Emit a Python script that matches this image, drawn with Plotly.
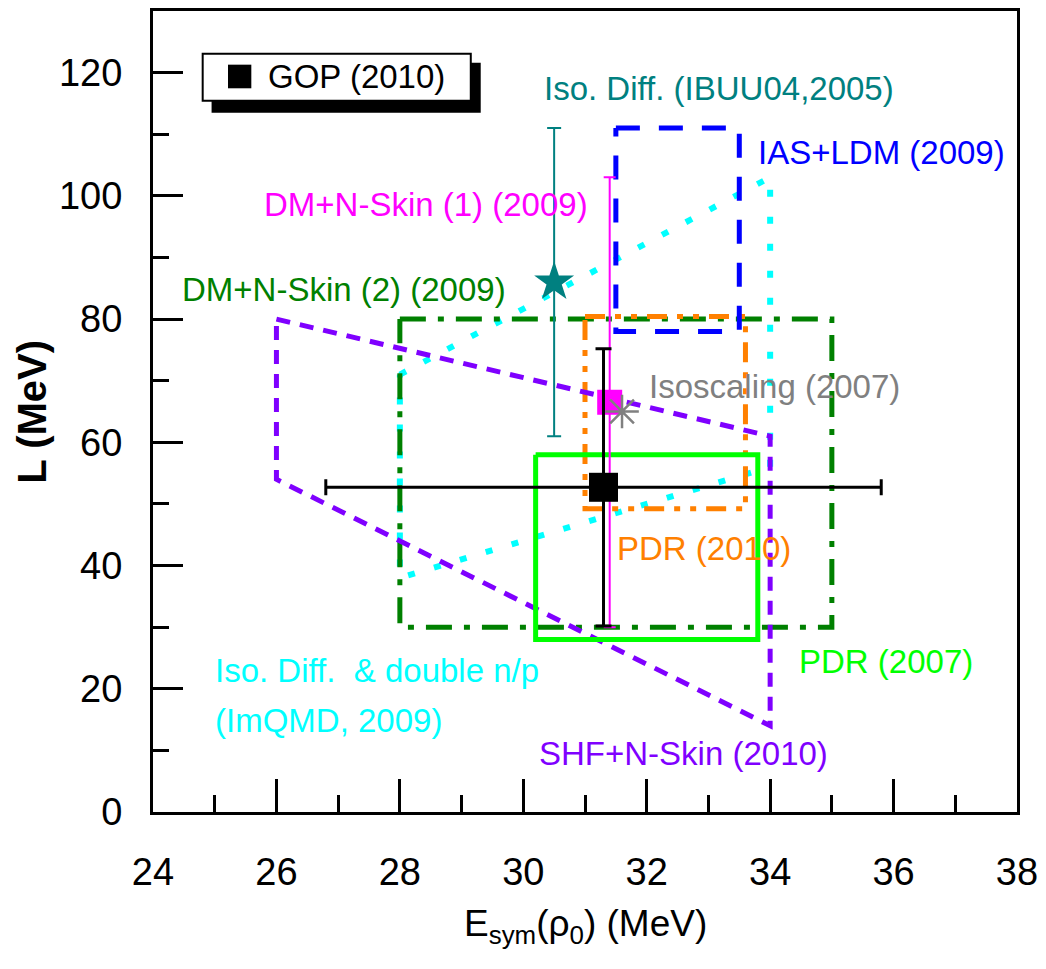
import plotly.graph_objects as go

# ---- constraints on the symmetry energy: Esym(rho0) [MeV] vs slope L [MeV] ----

# GOP (2010): point with error bars
gop_esym = [31.3]
gop_L = [52.7]
gop_esym_err = [4.5]
gop_L_err = [22.5]

# DM+N-Skin (1) (2009): point with vertical error bar
dm1_esym = [31.4]
dm1_L = [66.5]
dm1_L_err = [36.5]

# Iso. Diff. (IBUU04, 2005): point with vertical error bar
ibuu_esym = [30.5]
ibuu_L = [86.0]
ibuu_L_err = [25.0]

# Isoscaling (2007)
isoscal_esym = [31.6]
isoscal_L = [65.0]

# Rectangular regions: [min, max] in Esym and in L
ias_esym = [31.5, 33.5]      # IAS+LDM (2009)
ias_L = [78.0, 111.0]
pdr10_esym = [31.0, 33.6]    # PDR (2010)
pdr10_L = [49.2, 80.4]
pdr07_esym = [30.2, 33.8]    # PDR (2007)
pdr07_L = [28.0, 58.0]
dm2_esym = [28.0, 35.0]      # DM+N-Skin (2) (2009)
dm2_L = [30.0, 80.0]

# Polygonal regions (closed outlines)
shf_esym = [26.0, 34.0, 34.0, 26.0, 26.0]     # SHF+N-Skin (2010)
shf_L = [80.0, 61.0, 14.0, 54.0, 80.0]
imqmd_esym = [28.0, 34.0, 34.0, 28.0, 28.0]   # Iso. Diff. & double n/p (ImQMD, 2009)
imqmd_L = [71.0, 103.0, 56.0, 38.0, 71.0]

# Axis ticks
x_ticks = [24, 26, 28, 30, 32, 34, 36, 38]
y_ticks = [0, 20, 40, 60, 80, 100, 120]

FONT = "Liberation Sans, Arial, sans-serif"

TEAL = "#008080"
BLUE = "#0000FF"
MAGENTA = "#FF00FF"
GREEN = "#008000"
PURPLE = "#7F00FF"
GREY = "#808080"
ORANGE = "#FF8000"
LIME = "#00FF00"
CYAN = "#00FFFF"


def box_outline(xr, yr):
    """Closed outline of the rectangle spanned by two [min, max] ranges."""
    xs = [xr[0], xr[1], xr[1], xr[0], xr[0]]
    ys = [yr[1], yr[1], yr[0], yr[0], yr[1]]
    return xs, ys


fig = go.Figure()


def outline(xs, ys, color, width, dash):
    fig.add_trace(go.Scatter(
        x=xs, y=ys, mode="lines",
        line=dict(color=color, width=width, dash=dash),
        showlegend=False, hoverinfo="skip",
    ))


# regions
outline(imqmd_esym, imqmd_L, CYAN, 6, "7px,20px")
outline(*box_outline(dm2_esym, dm2_L), GREEN, 5, "26px,12px,6px,12px")
outline(*box_outline(pdr10_esym, pdr10_L), ORANGE, 5, "20px,10px,6px,10px,6px,10px")
outline(*box_outline(ias_esym, ias_L), BLUE, 5, "24px,19px")
outline(shf_esym, shf_L, PURPLE, 5, "14px,10px")
outline(*box_outline(pdr07_esym, pdr07_L), LIME, 5, "solid")

# DM+N-Skin (1)
fig.add_trace(go.Scatter(
    x=dm1_esym, y=dm1_L, mode="markers",
    marker=dict(symbol="square", size=25, color=MAGENTA),
    error_y=dict(type="data", array=dm1_L_err, color=MAGENTA, thickness=2, width=6),
    showlegend=False, hoverinfo="skip",
))

# Iso. Diff. (IBUU04)
fig.add_trace(go.Scatter(
    x=ibuu_esym, y=ibuu_L, mode="markers",
    marker=dict(symbol="star", size=30, color=TEAL),
    error_y=dict(type="data", array=ibuu_L_err, color=TEAL, thickness=2, width=7),
    showlegend=False, hoverinfo="skip",
))

# Isoscaling
fig.add_trace(go.Scatter(
    x=isoscal_esym, y=isoscal_L, mode="markers",
    marker=dict(symbol="asterisk-open", size=28, color=GREY,
                line=dict(color=GREY, width=2.5)),
    showlegend=False, hoverinfo="skip",
))

# GOP
fig.add_trace(go.Scatter(
    x=gop_esym, y=gop_L, mode="markers",
    marker=dict(symbol="square", size=29, color="black"),
    error_x=dict(type="data", array=gop_esym_err, color="black", thickness=3, width=8),
    error_y=dict(type="data", array=gop_L_err, color="black", thickness=3, width=8),
    showlegend=False, hoverinfo="skip",
))

# ---- labels ----
labels = [
    ("Iso. Diff. (IBUU04,2005)", 30.31, 117.5, TEAL),
    ("IAS+LDM (2009)", 33.77, 107.0, BLUE),
    ("DM+N-Skin (1) (2009)", 25.77, 98.6, MAGENTA),
    ("DM+N-Skin (2) (2009)", 24.43, 84.8, GREEN),
    ("Isoscaling (2007)", 32.0, 69.0, GREY),
    ("PDR (2010)", 31.48, 42.8, ORANGE),
    ("PDR (2007)", 34.44, 24.5, LIME),
    ("SHF+N-Skin (2010)", 30.23, 9.5, PURPLE),
    ("Iso. Diff.\u00a0 & double n/p", 24.97, 22.9, CYAN),
    ("(ImQMD, 2009)", 24.97, 14.8, CYAN),
]
annotations = []
for text, ax_, ay_, col in labels:
    annotations.append(dict(
        text=text, x=ax_, y=ay_, xref="x", yref="y",
        xanchor="left", yanchor="middle", showarrow=False,
        font=dict(family=FONT, size=33, color=col),
    ))

# legend-style key for GOP (2010)
annotations.append(dict(
    text="GOP (2010)", x=0.131, y=0.918, xref="paper", yref="paper",
    xanchor="left", yanchor="middle", showarrow=False,
    font=dict(family=FONT, size=33, color="black"),
))

# axis titles
annotations.append(dict(
    text="E<sub>sym</sub>(\u03c1<sub>0</sub>) (MeV)", x=0.5, y=-0.142,
    xref="paper", yref="paper", xanchor="center", yanchor="middle",
    showarrow=False, font=dict(family=FONT, size=37, color="black"),
))
annotations.append(dict(
    text="<b>L (MeV)</b>", x=-0.141, y=0.5, xref="paper", yref="paper",
    xanchor="center", yanchor="middle", textangle=-90,
    showarrow=False, font=dict(family=FONT, size=40, color="black"),
))

shapes = [
    # key box shadow and frame
    dict(type="rect", xref="paper", yref="paper", x0=0.0678, x1=0.3793,
         y0=0.8731, y1=0.9353, fillcolor="black", line=dict(width=0)),
    dict(type="rect", xref="paper", yref="paper", x0=0.0575, x1=0.3678,
         y0=0.888, y1=0.9465, fillcolor="white", line=dict(color="black", width=2)),
    # key symbol
    dict(type="rect", xref="paper", yref="paper", x0=0.0868, x1=0.1138,
         y0=0.9035, y1=0.933, fillcolor="black", line=dict(width=0)),
]

axis_font = dict(family=FONT, size=38, color="black")

fig.update_layout(
    width=1046, height=969,
    margin=dict(l=153, r=23, t=8, b=157),
    paper_bgcolor="white", plot_bgcolor="white",
    showlegend=False,
    annotations=annotations,
    shapes=shapes,
    xaxis=dict(
        range=[24, 38], tickmode="array", tickvals=x_ticks,
        ticks="inside", ticklen=33, tickwidth=3, tickcolor="black",
        minor=dict(dtick=1, ticks="inside", ticklen=17, tickwidth=3, tickcolor="black"),
        showline=True, linewidth=3, linecolor="black", mirror=True,
        showgrid=False, zeroline=False,
        tickfont=axis_font, ticklabelstandoff=24,
    ),
    yaxis=dict(
        range=[0, 130], tickmode="array", tickvals=y_ticks,
        ticks="inside", ticklen=30, tickwidth=3, tickcolor="black",
        minor=dict(dtick=10, ticks="inside", ticklen=16, tickwidth=3, tickcolor="black"),
        showline=True, linewidth=3, linecolor="black", mirror=True,
        showgrid=False, zeroline=False,
        tickfont=axis_font, ticklabelstandoff=20,
    ),
    # short ticks along the top and right edges
    xaxis2=dict(
        range=[24, 38], overlaying="x", side="top", anchor="y",
        dtick=1, tick0=24, ticks="inside", ticklen=5, tickwidth=2, tickcolor="black",
        showticklabels=False, showgrid=False, zeroline=False, showline=False,
    ),
    yaxis2=dict(
        range=[0, 130], overlaying="y", side="right", anchor="x",
        dtick=10, tick0=0, ticks="inside", ticklen=5, tickwidth=2, tickcolor="black",
        showticklabels=False, showgrid=False, zeroline=False, showline=False,
    ),
)

fig.write_html("out.html")
